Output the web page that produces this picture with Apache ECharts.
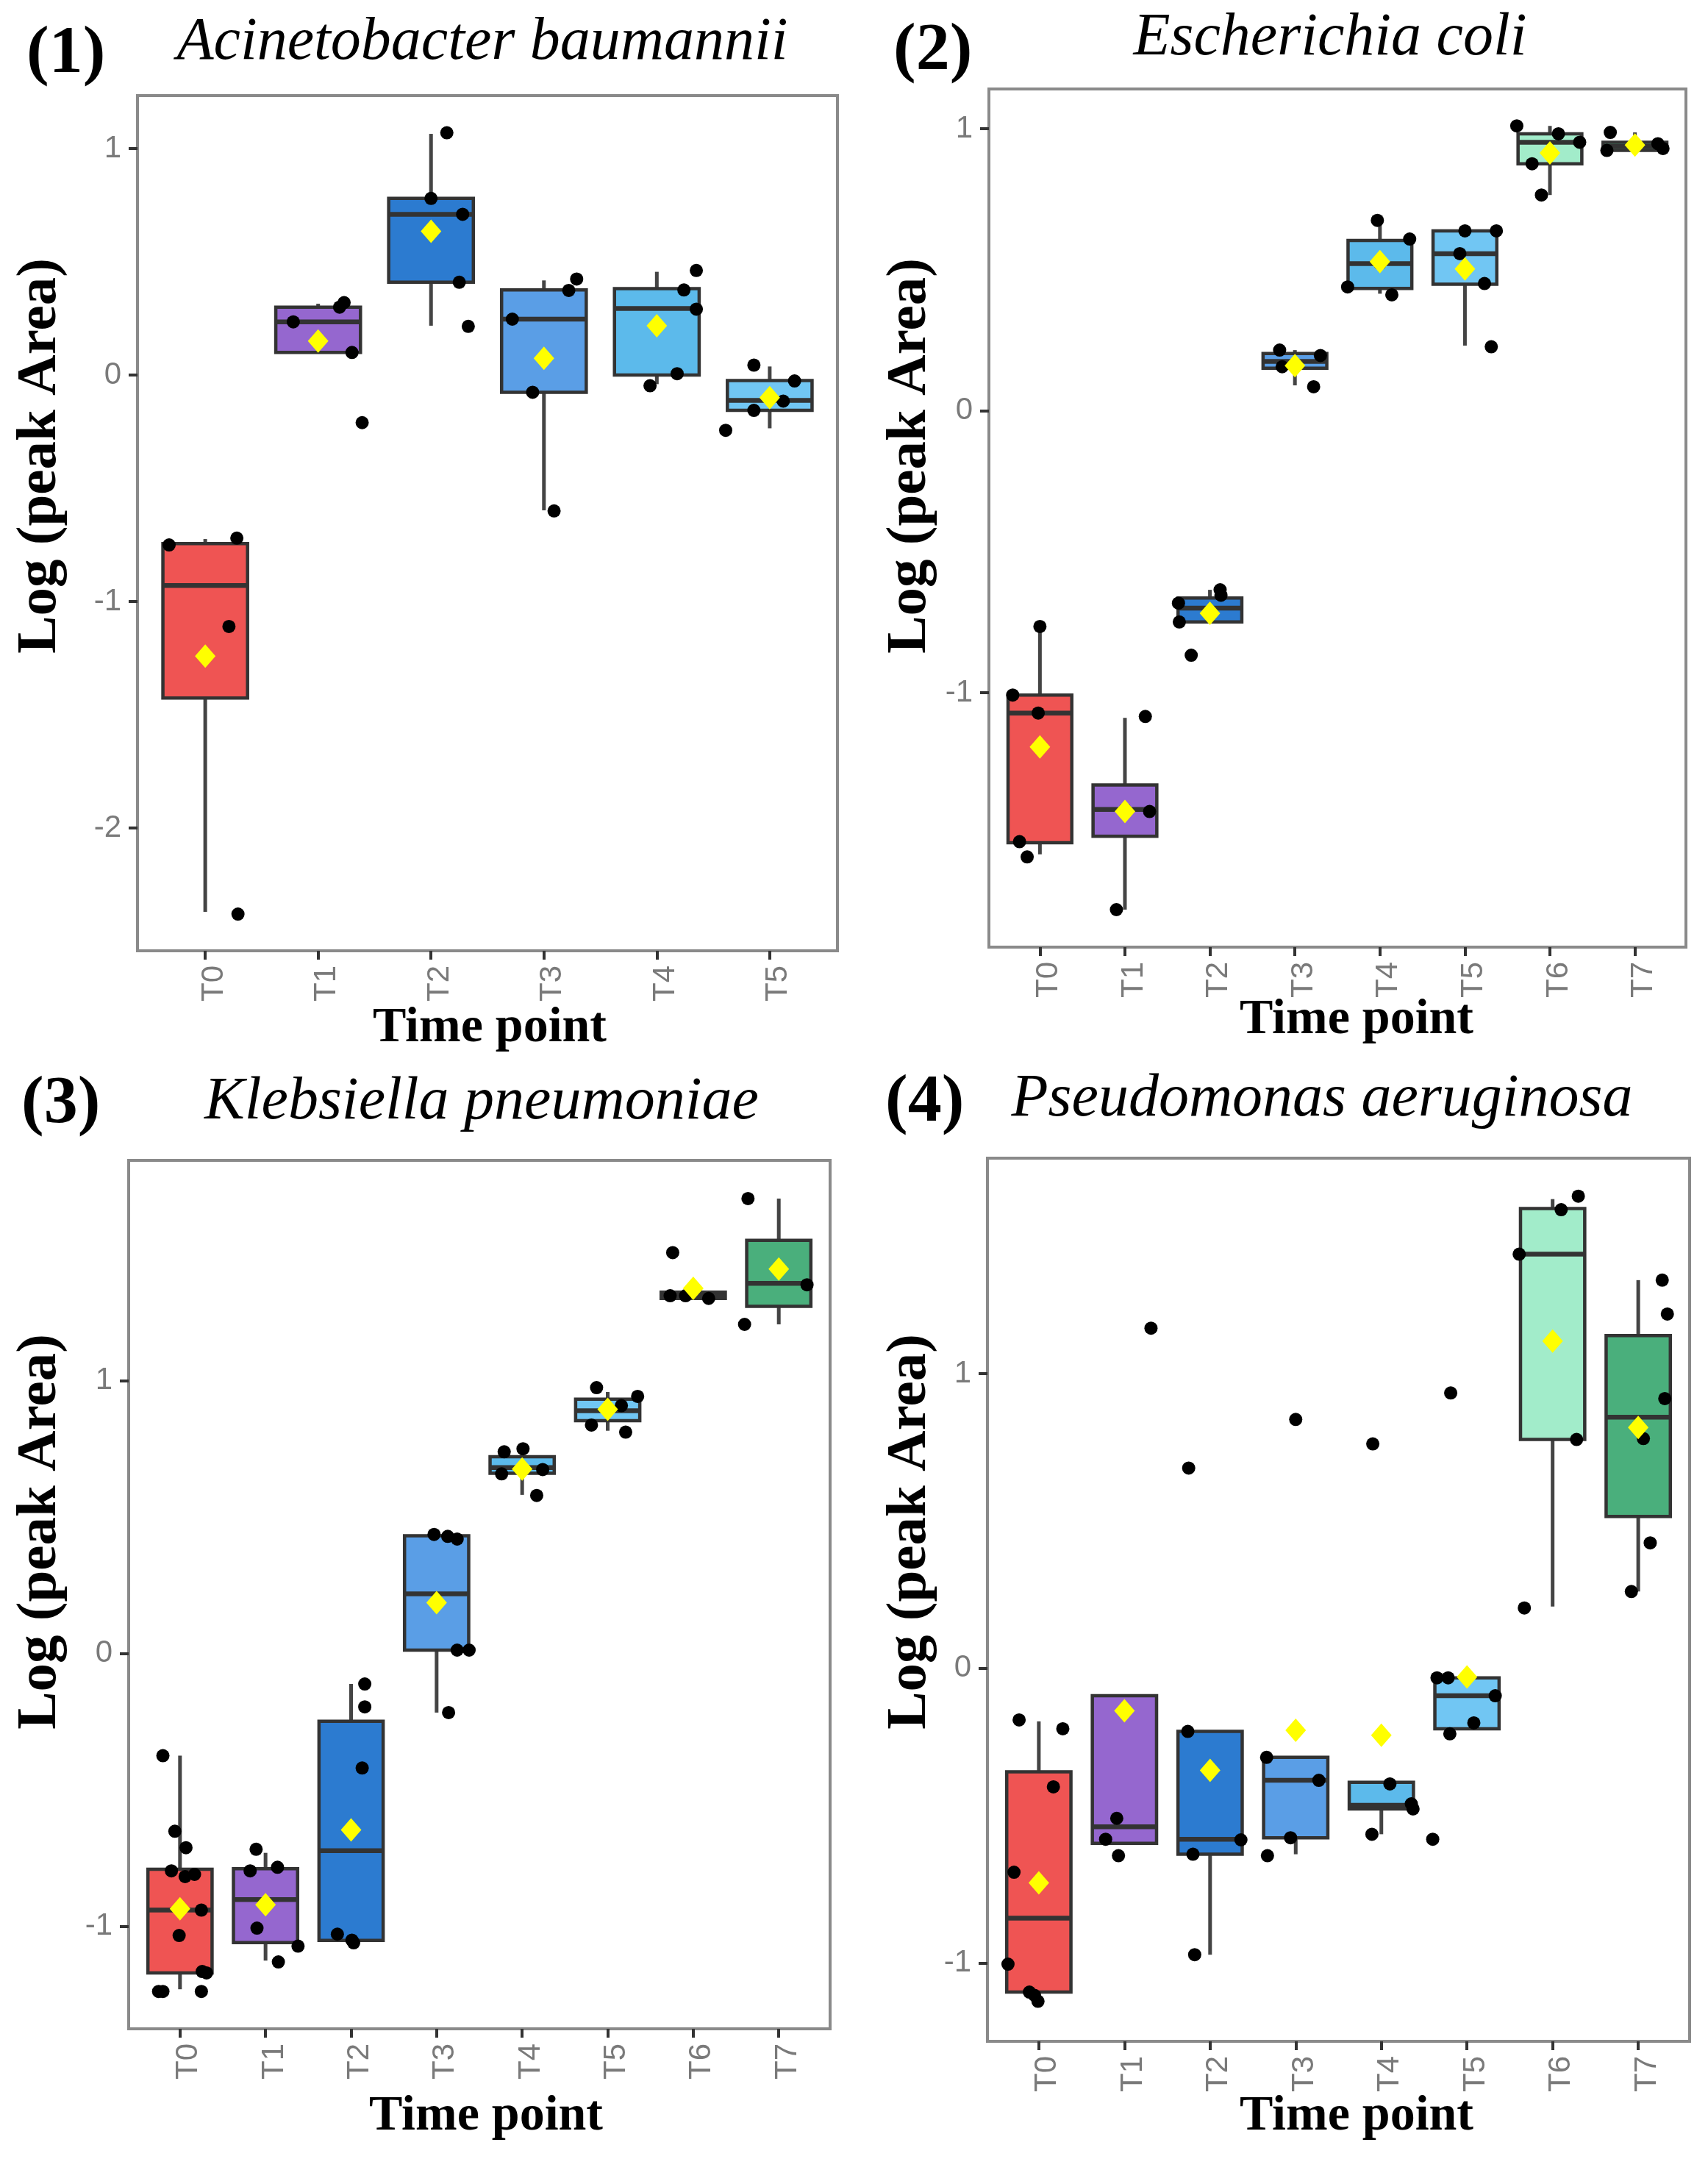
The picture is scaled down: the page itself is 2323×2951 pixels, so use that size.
<!DOCTYPE html>
<html>
<head>
<meta charset="utf-8">
<script src="https://cdn.jsdelivr.net/npm/echarts@6/dist/echarts.min.js"></script>
<style>
html,body{margin:0;padding:0;background:#fff;}
#chart{width:2323px;height:2951px;}
</style>
</head>
<body>
<div id="chart"></div>
<script>
// ---------------- DATA ----------------
const categories6 = ['T0','T1','T2','T3','T4','T5'];
const categories8 = ['T0','T1','T2','T3','T4','T5','T6','T7'];

const panelLabels = ['(1)','(2)','(3)','(4)'];
const panelTitles = ['Acinetobacter baumannii','Escherichia coli','Klebsiella pneumoniae','Pseudomonas aeruginosa'];
const yAxisTitle = 'Log (peak Area)';
const xAxisTitle = 'Time point';

const yTicks1 = [-2,-1,0,1];
const yTicks2 = [-1,0,1];
const yTicks3 = [-1,0,1];
const yTicks4 = [-1,0,1];

const yRange1 = [-2.542, 1.234];
const yRange2 = [-1.902, 1.141];
const yRange3 = [-1.375, 1.808];
const yRange4 = [-1.266, 1.732];

// box stats: [lower whisker, Q1, median, Q3, upper whisker]
const box1 = [
  [-2.37,-1.426,-0.929,-0.744,-0.724],
  [0.10,0.10,0.235,0.30,0.315],
  [0.218,0.41,0.71,0.78,1.065],
  [-0.597,-0.076,0.247,0.376,0.418],
  [-0.04,0.0,0.294,0.382,0.456],
  [-0.235,-0.156,-0.112,-0.024,0.038]
];
const mean1 = [-1.241,0.15,0.635,0.074,0.218,-0.10];
// points: [category index, horizontal jitter, value]
const pts1 = [
  [0,-0.32,-0.75],[0,0.28,-0.72],[0,0.21,-1.11],[0,0.29,-2.38],
  [1,-0.22,0.235],[1,0.19,0.30],[1,0.23,0.32],[1,0.30,0.10],[1,0.39,-0.21],
  [2,0.14,1.07],[2,0.0,0.78],[2,0.28,0.71],[2,0.25,0.41],[2,0.33,0.215],
  [3,-0.28,0.247],[3,0.22,0.374],[3,0.29,0.424],[3,-0.10,-0.076],[3,0.09,-0.60],
  [4,0.35,0.462],[4,0.24,0.376],[4,0.35,0.291],[4,0.18,0.006],[4,-0.06,-0.047],
  [5,-0.14,0.044],[5,0.22,-0.026],[5,0.12,-0.115],[5,-0.14,-0.156],[5,-0.39,-0.244]
];

const box2 = [
  [-1.573,-1.532,-1.072,-1.008,-0.765],
  [-1.769,-1.509,-1.414,-1.327,-1.089],
  [-0.749,-0.749,-0.70,-0.664,-0.635],
  [0.09,0.151,0.175,0.203,0.215],
  [0.415,0.434,0.522,0.604,0.675],
  [0.231,0.449,0.557,0.638,0.638],
  [0.765,0.876,0.952,0.982,1.01],
  [0.923,0.923,0.937,0.952,0.987]
];
const mean2 = [-1.192,-1.421,-0.718,0.16,0.529,0.503,0.914,0.942];
const pts2 = [
  [0,-0.32,-1.008],[0,-0.02,-1.072],[0,0.0,-0.765],[0,-0.24,-1.528],[0,-0.15,-1.582],
  [1,0.24,-1.084],[1,0.0,-1.414],[1,0.29,-1.421],[1,-0.10,-1.769],
  [2,-0.37,-0.682],[2,-0.36,-0.749],[2,0.12,-0.635],[2,0.13,-0.654],[2,-0.22,-0.867],
  [3,-0.18,0.215],[3,-0.15,0.156],[3,0.30,0.196],[3,0.22,0.085],
  [4,-0.03,0.675],[4,0.35,0.609],[4,-0.38,0.439],[4,0.14,0.411],[4,0.0,0.522],
  [5,0.0,0.638],[5,0.37,0.638],[5,-0.06,0.557],[5,0.23,0.451],[5,0.31,0.227],
  [6,-0.39,1.01],[6,0.10,0.982],[6,0.35,0.952],[6,-0.21,0.876],[6,-0.10,0.765],
  [7,-0.29,0.987],[7,-0.33,0.923],[7,0.27,0.947],[7,0.33,0.930]
];

const box3 = [
  [-1.23,-1.17,-0.94,-0.79,-0.374],
  [-1.125,-1.059,-0.901,-0.788,-0.73],
  [-1.051,-1.051,-0.722,-0.248,-0.111],
  [-0.216,0.013,0.219,0.432,0.443],
  [0.582,0.661,0.682,0.722,0.746],
  [0.817,0.854,0.89,0.933,0.959],
  [1.302,1.302,1.312,1.325,1.325],
  [1.207,1.273,1.357,1.515,1.668]
];
const mean3 = [-0.935,-0.92,-0.646,0.187,0.677,0.896,1.339,1.41];
const pts3 = [
  [0,-0.20,-0.374],[0,-0.06,-0.651],[0,0.07,-0.711],[0,-0.10,-0.796],[0,0.06,-0.817],[0,0.17,-0.809],
  [0,0.25,-0.94],[0,-0.01,-1.033],[0,0.26,-1.165],[0,0.31,-1.17],[0,-0.25,-1.238],[0,-0.20,-1.238],[0,0.25,-1.238],
  [1,-0.11,-0.717],[1,-0.18,-0.796],[1,0.14,-0.783],[1,-0.10,-1.006],[1,0.38,-1.072],[1,0.15,-1.13],
  [2,0.16,-0.111],[2,0.16,-0.195],[2,0.13,-0.419],[2,-0.16,-1.028],[2,0.01,-1.05],[2,0.03,-1.06],
  [3,-0.03,0.437],[3,0.13,0.43],[3,0.24,0.42],[3,0.24,0.013],[3,0.38,0.013],[3,0.14,-0.216],
  [4,-0.21,0.74],[4,0.01,0.751],[4,-0.24,0.659],[4,0.24,0.675],[4,0.17,0.58],
  [5,-0.13,0.975],[5,-0.19,0.838],[5,0.21,0.812],[5,0.16,0.909],[5,0.35,0.943],
  [6,-0.24,1.47],[6,-0.09,1.312],[6,0.18,1.302],[6,-0.27,1.312],
  [7,-0.36,1.668],[7,-0.40,1.207],[7,0.33,1.352]
];

const box4 = [
  [-1.099,-1.099,-0.848,-0.351,-0.18],
  [-0.594,-0.594,-0.538,-0.093,-0.093],
  [-0.972,-0.631,-0.58,-0.214,-0.214],
  [-0.631,-0.575,-0.38,-0.302,-0.302],
  [-0.563,-0.477,-0.465,-0.387,-0.387],
  [-0.205,-0.205,-0.093,-0.032,-0.032],
  [0.21,0.777,1.406,1.561,1.593],
  [0.261,0.516,0.853,1.13,1.318]
];
const mean4 = [-0.728,-0.144,-0.346,-0.21,-0.227,-0.029,1.111,0.818];
const pts4 = [
  [0,-0.23,-0.175],[0,0.28,-0.205],[0,0.17,-0.402],[0,-0.29,-0.692],[0,-0.36,-1.004],[0,-0.11,-1.099],[0,-0.05,-1.11],[0,-0.01,-1.13],
  [1,0.31,1.155],[1,-0.09,-0.509],[1,-0.22,-0.58],[1,-0.07,-0.636],
  [2,-0.25,0.68],[2,-0.26,-0.214],[2,0.36,-0.582],[2,-0.20,-0.631],[2,-0.18,-0.972],
  [3,0.0,0.845],[3,-0.34,-0.302],[3,0.27,-0.38],[3,-0.06,-0.575],[3,-0.33,-0.636],
  [4,-0.10,0.762],[4,0.10,-0.392],[4,0.35,-0.46],[4,0.37,-0.477],[4,-0.11,-0.563],
  [5,-0.19,0.935],[5,-0.35,-0.032],[5,-0.22,-0.032],[5,0.33,-0.093],[5,0.08,-0.185],[5,-0.20,-0.222],[5,-0.40,-0.58],
  [6,0.30,1.603],[6,0.10,1.557],[6,-0.39,1.406],[6,0.28,0.777],[6,-0.33,0.205],
  [7,0.28,1.318],[7,0.34,1.203],[7,0.31,0.916],[7,0.06,0.78],[7,0.14,0.426],[7,-0.08,0.261]
];

// ---------------- STYLE ----------------
const boxColors = ['#EF5453','#9567CF','#2C7BD0','#5A9EE6','#5CBAEB','#71C6F3','#A2ECCA','#4AAF7C'];
const SERIF = '"Liberation Serif", "DejaVu Serif", serif';
const SANS = '"Liberation Sans", Arial, sans-serif';

const panels = [
  {cats: categories6, box: box1, mean: mean1, pts: pts1, yTicks: yTicks1, yRange: yRange1,
   grid: {left: 187, top: 130, width: 952, height: 1163}},
  {cats: categories8, box: box2, mean: mean2, pts: pts2, yTicks: yTicks2, yRange: yRange2,
   grid: {left: 1345, top: 121, width: 948, height: 1167}},
  {cats: categories8, box: box3, mean: mean3, pts: pts3, yTicks: yTicks3, yRange: yRange3,
   grid: {left: 175, top: 1578, width: 954, height: 1181}},
  {cats: categories8, box: box4, mean: mean4, pts: pts4, yTicks: yTicks4, yRange: yRange4,
   grid: {left: 1343, top: 1575, width: 955, height: 1201}}
];

// text placement (pixels)
const textLayout = [
  {lab: [36, 74], title: [656, 58], ytitle: [55, 620], xtitle: [666, 1398]},
  {lab: [1215, 70], title: [1809, 52], ytitle: [1238, 620], xtitle: [1845, 1387]},
  {lab: [29, 1502], title: [655, 1499], ytitle: [55, 2083], xtitle: [661, 2878]},
  {lab: [1204, 1500], title: [1798, 1495], ytitle: [1238, 2083], xtitle: [1845, 2878]}
];

const grids = [], xAxes = [], yAxes = [], series = [], graphics = [];

panels.forEach((p, i) => {
  const n = p.cats.length;
  const idx = p.cats.map((c, k) => k);
  grids.push(Object.assign({show: true, borderColor: '#8a8a8a', borderWidth: 4, backgroundColor: '#ffffff'}, p.grid));
  xAxes.push({
    type: 'value', gridIndex: i, min: -0.6, max: n - 0.4, position: 'bottom',
    axisLine: {show: false, onZero: false}, splitLine: {show: false},
    axisTick: {show: true, customValues: idx, length: 12, lineStyle: {color: '#333', width: 4}},
    axisLabel: {customValues: idx, formatter: v => p.cats[Math.round(v)], rotate: 90, margin: 20,
      fontSize: 42, color: '#7a7a7a', fontFamily: SANS, verticalAlign: 'top', lineHeight: 24}
  });
  yAxes.push({
    type: 'value', gridIndex: i, min: p.yRange[0], max: p.yRange[1], position: 'left',
    axisLine: {show: false, onZero: false}, splitLine: {show: false},
    axisTick: {show: true, customValues: p.yTicks, length: 12, lineStyle: {color: '#333', width: 4}},
    axisLabel: {customValues: p.yTicks, margin: 22, fontSize: 42, color: '#7a7a7a', fontFamily: SANS}
  });
  series.push({
    type: 'custom', xAxisIndex: i, yAxisIndex: i, z: 2,
    data: p.box.map((b, k) => [k, b[0], b[1], b[2], b[3], b[4]]),
    encode: {x: 0, y: [1, 2, 3, 4, 5]},
    renderItem: (params, api) => {
      const x = api.value(0);
      const lo = api.coord([x, api.value(1)]);
      const q1 = api.coord([x, api.value(2)]);
      const md = api.coord([x, api.value(3)]);
      const q3 = api.coord([x, api.value(4)]);
      const hi = api.coord([x, api.value(5)]);
      const w = api.size([0.75, 0])[0];
      const col = boxColors[Math.round(x)];
      return {type: 'group', children: [
        {type: 'line', shape: {x1: lo[0], y1: lo[1], x2: q1[0], y2: q1[1]}, style: {stroke: '#444', lineWidth: 5}},
        {type: 'line', shape: {x1: q3[0], y1: q3[1], x2: hi[0], y2: hi[1]}, style: {stroke: '#444', lineWidth: 5}},
        {type: 'rect', shape: {x: q1[0] - w / 2, y: q3[1], width: w, height: q1[1] - q3[1]},
          style: {fill: col, stroke: '#333', lineWidth: 4.5}},
        {type: 'line', shape: {x1: md[0] - w / 2, y1: md[1], x2: md[0] + w / 2, y2: md[1]}, style: {stroke: '#333', lineWidth: 6.5}}
      ]};
    }
  });
  series.push({
    type: 'scatter', xAxisIndex: i, yAxisIndex: i, z: 3,
    data: p.pts.map(q => [q[0] + q[1], q[2]]),
    symbol: 'circle', symbolSize: 18, itemStyle: {color: '#000', opacity: 1}
  });
  series.push({
    type: 'scatter', xAxisIndex: i, yAxisIndex: i, z: 4,
    data: p.mean.map((m, k) => [k, m]),
    symbol: 'diamond', symbolSize: [28, 32], itemStyle: {color: '#FFFF00', opacity: 1}
  });

  const t = textLayout[i];
  graphics.push({type: 'text', x: t.lab[0], y: t.lab[1],
    style: {text: panelLabels[i], font: 'bold 92px ' + SERIF, fill: '#000', textAlign: 'left', textVerticalAlign: 'middle', align: 'left', verticalAlign: 'middle'}});
  graphics.push({type: 'text', x: t.title[0], y: t.title[1],
    style: {text: panelTitles[i], font: 'italic 82px ' + SERIF, fill: '#000', textAlign: 'center', textVerticalAlign: 'middle', align: 'center', verticalAlign: 'middle'}});
  graphics.push({type: 'text', x: t.ytitle[0], y: t.ytitle[1], rotation: Math.PI / 2,
    style: {text: yAxisTitle, font: 'bold 77px ' + SERIF, fill: '#000', textAlign: 'center', textVerticalAlign: 'middle', align: 'center', verticalAlign: 'middle'}});
  graphics.push({type: 'text', x: t.xtitle[0], y: t.xtitle[1],
    style: {text: xAxisTitle, font: 'bold 68px ' + SERIF, fill: '#000', textAlign: 'center', textVerticalAlign: 'middle', align: 'center', verticalAlign: 'middle'}});
});

const chart = echarts.init(document.getElementById('chart'), null, {renderer: 'canvas'});
chart.setOption({
  backgroundColor: '#ffffff',
  animation: false,
  grid: grids,
  xAxis: xAxes,
  yAxis: yAxes,
  series: series,
  graphic: graphics
});
</script>
</body>
</html>
